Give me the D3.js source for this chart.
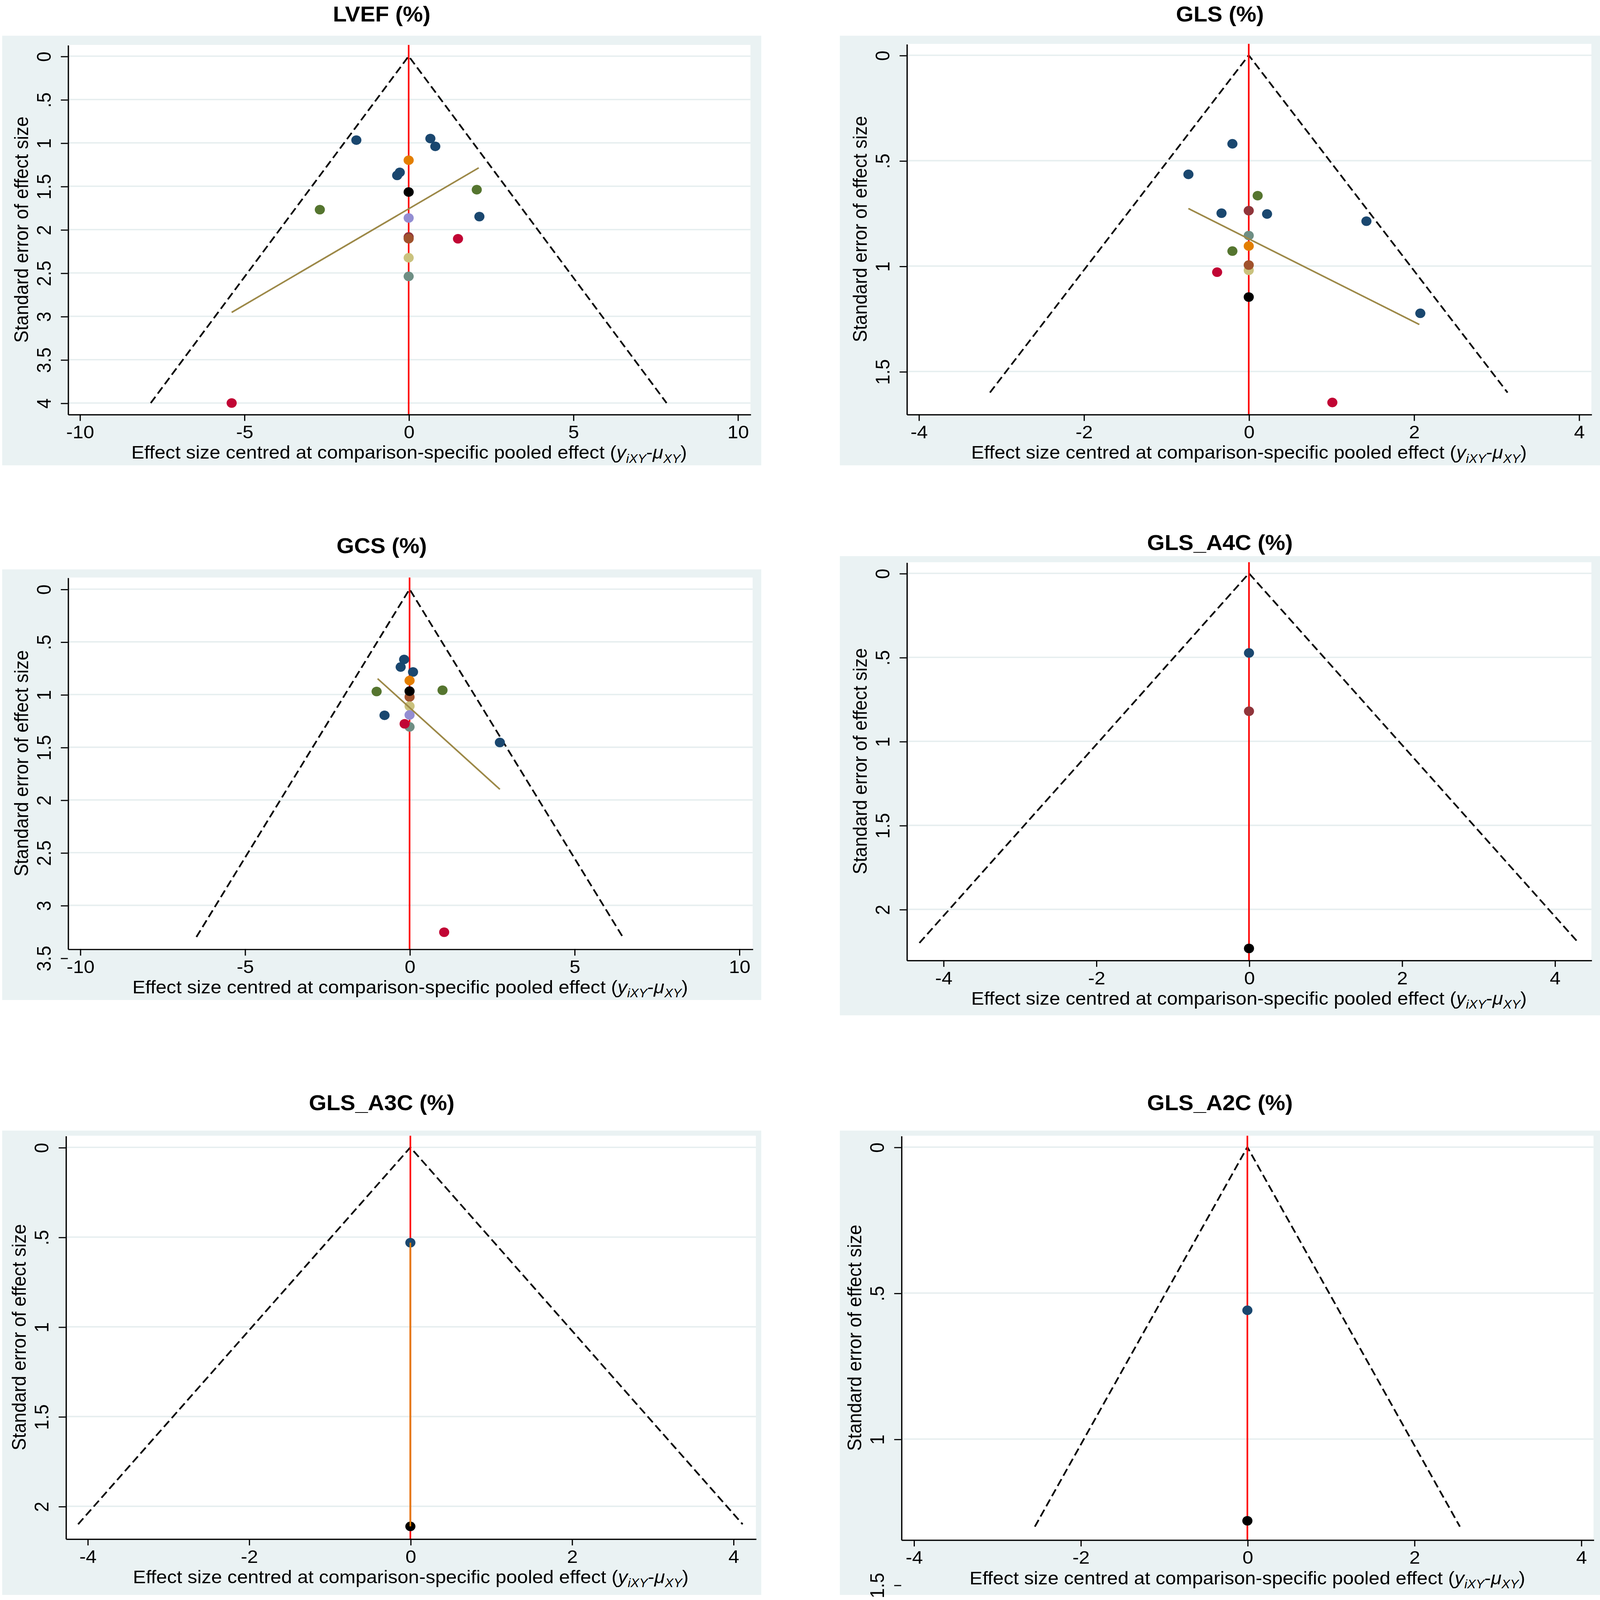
<!DOCTYPE html>
<html>
<head>
<meta charset="utf-8">
<title>Comparison-adjusted funnel plots</title>
<style>
  html, body { margin: 0; padding: 0; background: #fff; overflow: hidden; }
  svg { display: block; font-family: "Liberation Sans", Arial, sans-serif; }
</style>
</head>
<body>
<svg id="main"></svg>

<script src="https://cdn.jsdelivr.net/npm/d3@7.0.1/dist/d3.min.js"></script>
<script>
  // marker colour of each comparison (Stata s2color order)
  const cmpColor = {
    c1: '#1a476f', c2: '#90353b', c3: '#55752f', c4: '#e37e00', c5: '#6e8e84',
    c6: '#c10534', c7: '#938dd2', c8: '#cac27e', c9: '#a0522d', c10: '#000000'
  }

  // ---- LVEF (%)
  const lvefEffect = [-1.59, 0.66, 0.81, 0, -0.27, -0.35, 0, 2.07, -2.70, 0, 2.15, 0, 0, 1.50, 0, 0, -5.38]
  const lvefSE = [0.968, 0.95, 1.04, 1.20, 1.34, 1.375, 1.567, 1.54, 1.77, 1.866, 1.85, 2.085, 2.105, 2.106, 2.325, 2.54, 4.0]
  const lvefCmp = ['c1', 'c1', 'c1', 'c4', 'c1', 'c1', 'c10', 'c3', 'c3', 'c7', 'c1', 'c2', 'c9', 'c6', 'c8', 'c5', 'c6']
  const lvefFitX = [-5.38, 2.13], lvefFitSE = [2.955, 1.288]

  // ---- GLS (%)
  const glsEffect = [-0.198, -0.731, 0.108, -0.33, 0, 0.222, 1.426, 0, 0, -0.198, 0, 0, -0.383, 0, 2.079, 1.013]
  const glsSE = [0.420, 0.565, 0.666, 0.749, 0.737, 0.753, 0.787, 0.855, 0.905, 0.929, 1.020, 0.995, 1.029, 1.147, 1.224, 1.647]
  const glsCmp = ['c1', 'c1', 'c3', 'c1', 'c2', 'c1', 'c1', 'c5', 'c4', 'c3', 'c8', 'c9', 'c6', 'c10', 'c1', 'c6']
  const glsFitX = [-0.731, 2.067], glsFitSE = [0.727, 1.277]

  // ---- GCS (%)
  const gcsEffect = [-0.165, -0.27, 0.105, 0, -1.00, 1.00, 0, 0, 0, -0.76, 0, 0, -0.15, 2.74, 1.05]
  const gcsSE = [0.667, 0.739, 0.786, 0.867, 0.971, 0.959, 1.023, 0.968, 1.11, 1.197, 1.194, 1.307, 1.278, 1.455, 3.255]
  const gcsCmp = ['c1', 'c1', 'c1', 'c4', 'c3', 'c3', 'c9', 'c10', 'c8', 'c1', 'c7', 'c5', 'c6', 'c1', 'c6']
  const gcsFitX = [-0.97, 2.74], gcsFitSE = [0.849, 1.899]

  // ---- GLS_A4C / GLS_A3C / GLS_A2C (%)
  const a4cEffect = [0, 0, 0], a4cSE = [0.474, 0.821, 2.233], a4cCmp = ['c1', 'c2', 'c10']
  const a3cEffect = [0, 0], a3cSE = [0.531, 2.112], a3cCmp = ['c1', 'c10']
  const a3cFitX = [0, 0], a3cFitSE = [0.531, 2.112]
  const a2cEffect = [0, 0], a2cSE = [0.559, 1.28], a2cCmp = ['c1', 'c10']

  // tick values
  const ticksWide = [-10, -5, 0, 5, 10]
  const ticksNarrow = [-4, -2, 0, 2, 4]

  const panels = [
    { title: 'LVEF (%)', x: lvefEffect, se: lvefSE, cmp: lvefCmp, fitX: lvefFitX, fitSE: lvefFitSE, fitColor: '#9c8847',
      funnelSE: 4.0, xTicks: ticksWide, yTicks: d3.range(0, 4.01, 0.5), xDom: [-10.36, 10.39], yDom: [-0.13, 4.13],
      box: [2, 35, 707, 456], plot: [63, 44, 697, 406], titleY: 21 },
    { title: 'GLS (%)', x: glsEffect, se: glsSE, cmp: glsCmp, fitX: glsFitX, fitSE: glsFitSE, fitColor: '#9c8847',
      funnelSE: 1.6, xTicks: ticksNarrow, yTicks: [0, 0.5, 1, 1.5], xDom: [-4.146, 4.152], yDom: [-0.054, 1.703],
      box: [780, 35, 1486, 456], plot: [842, 43, 1478, 406], titleY: 21 },
    { title: 'GCS (%)', x: gcsEffect, se: gcsSE, cmp: gcsCmp, fitX: gcsFitX, fitSE: gcsFitSE, fitColor: '#9c8847',
      funnelSE: 3.3, xTicks: ticksWide, yTicks: d3.range(0, 3.51, 0.5), xDom: [-10.37, 10.41], yDom: [-0.11, 3.414],
      box: [2, 558, 707, 980], plot: [63, 566, 699, 930], titleY: 542 },
    { title: 'GLS_A4C (%)', x: a4cEffect, se: a4cSE, cmp: a4cCmp, fitX: null, fitSE: null,
      funnelSE: 2.2, xTicks: ticksNarrow, yTicks: [0, 0.5, 1, 1.5, 2], xDom: [-4.48, 4.48], yDom: [-0.066, 2.303],
      box: [780, 545, 1486, 995], plot: [842, 551, 1478, 941], titleY: 539 },
    { title: 'GLS_A3C (%)', x: a3cEffect, se: a3cSE, cmp: a3cCmp, fitX: a3cFitX, fitSE: a3cFitSE, fitColor: '#e37e00',
      funnelSE: 2.1, xTicks: ticksNarrow, yTicks: [0, 0.5, 1, 1.5, 2], xDom: [-4.27, 4.28], yDom: [-0.065, 2.181],
      box: [2, 1108, 707, 1563], plot: [61, 1113, 702, 1508], titleY: 1088 },
    { title: 'GLS_A2C (%)', x: a2cEffect, se: a2cSE, cmp: a2cCmp, fitX: null, fitSE: null,
      funnelSE: 1.3, xTicks: ticksNarrow, yTicks: [0, 0.5, 1, 1.5], xDom: [-4.15, 4.15], yDom: [-0.039, 1.345],
      box: [780, 1108, 1486, 1563], plot: [837, 1113, 1480, 1509], titleY: 1088 }
  ]

  // drawing units: 1486 x 1568, stretched over the whole window
  const svg = d3.select('#main')
    .attr('width', window.innerWidth).attr('height', window.innerHeight)
    .attr('viewBox', '0 0 1486 1568').attr('preserveAspectRatio', 'none')
  const stataFmt = v => String(v).replace(/^0\./, '.')

  panels.forEach(p => {
    const [bx0, by0, bx1, by1] = p.box
    const [px0, py0, px1, py1] = p.plot

    // graph region and plot region
    svg.append('rect').attr('x', bx0).attr('y', by0).attr('width', bx1 - bx0).attr('height', by1 - by0)
      .attr('fill', '#eaf2f3')
    svg.append('rect').attr('x', px0).attr('y', py0).attr('width', px1 - px0).attr('height', py1 - py0)
      .attr('fill', '#ffffff')

    svg.append('text').text(p.title)
      .attr('x', (bx0 + bx1) / 2).attr('y', p.titleY)
      .attr('text-anchor', 'middle').attr('font-weight', 'bold').attr('font-size', 21)

    const xScale = d3.scaleLinear().domain(p.xDom).range([px0, px1])
    const yScale = d3.scaleLinear().domain(p.yDom).range([py0, py1])

    const g = svg.append('g')

    // horizontal grid
    g.selectAll('.grid').data(p.yTicks.filter(v => v <= p.yDom[1]))
      .join('line')
      .attr('class', 'grid')
      .attr('x1', px0).attr('x2', px1)
      .attr('y1', d => yScale(d)).attr('y2', d => yScale(d))
      .attr('stroke', '#e6eeef').attr('stroke-width', 1.4)

    // pseudo 95% confidence limits
    const funnel = [[-1.96 * p.funnelSE, p.funnelSE], [0, 0], [1.96 * p.funnelSE, p.funnelSE]]
    g.append('path')
      .attr('d', d3.line().x(d => xScale(d[0])).y(d => yScale(d[1]))(funnel))
      .attr('fill', 'none').attr('stroke', '#000').attr('stroke-width', 1.6)
      .attr('stroke-dasharray', '7.5,3.8')

    // line of null effect
    g.append('line')
      .attr('x1', xScale(0)).attr('x2', xScale(0))
      .attr('y1', py0).attr('y2', py1)
      .attr('stroke', '#ff0000').attr('stroke-width', 1.5)

    // studies
    const pts = p.x.map((v, i) => ({ x: v, se: p.se[i], cmp: p.cmp[i] }))
    g.selectAll('.pt').data(pts)
      .join('circle')
      .attr('class', 'pt')
      .attr('cx', d => xScale(d.x)).attr('cy', d => yScale(d.se))
      .attr('r', 4.7)
      .attr('fill', d => cmpColor[d.cmp])

    // small-study regression line
    if (p.fitX) {
      const fit = p.fitX.map((v, i) => [v, p.fitSE[i]])
      g.append('path')
        .attr('d', d3.line().x(d => xScale(d[0])).y(d => yScale(d[1]))(fit))
        .attr('fill', 'none').attr('stroke', p.fitColor).attr('stroke-width', 1.5)
    }

    // axes
    const yAxis = d3.axisLeft(yScale).tickValues(p.yTicks).tickFormat(stataFmt)
      .tickSizeInner(6.5).tickSizeOuter(0)
    const xAxis = d3.axisBottom(xScale).tickValues(p.xTicks).tickFormat(stataFmt)
      .tickSizeInner(6.5).tickSizeOuter(0)

    const ya = svg.append('g').attr('transform', `translate(${px0},0)`).call(yAxis)
    const xa = svg.append('g').attr('transform', `translate(0,${py1})`).call(xAxis)

    ;[ya, xa].forEach(a => {
      a.select('.domain').attr('stroke', '#000').attr('stroke-width', 1.2)
      a.selectAll('.tick line').attr('stroke', '#000').attr('stroke-width', 1.1)
      a.selectAll('.tick text').attr('font-size', 18).attr('fill', '#000')
        .attr('font-family', '"Liberation Sans", Arial, sans-serif')
    })
    ya.selectAll('.tick text')
      .attr('x', 0).attr('dy', 0).attr('text-anchor', 'middle')
      .attr('transform', 'translate(-16,0) rotate(-90)')
    xa.selectAll('.tick text').attr('y', 0).attr('dy', 23.5)

    // axis titles
    svg.append('text').text('Standard error of effect size')
      .attr('transform', `translate(${px0 - 37},${(py0 + py1) / 2}) rotate(-90)`)
      .attr('text-anchor', 'middle').attr('font-size', 18)

    const xt = svg.append('text')
      .attr('x', (px0 + px1) / 2).attr('y', py1 + 43.5)
      .attr('text-anchor', 'middle').attr('font-size', 18)
    xt.append('tspan').text('Effect size centred at comparison-specific pooled effect (')
    xt.append('tspan').attr('font-style', 'italic').text('y')
    xt.append('tspan').attr('font-style', 'italic').attr('font-size', 12).attr('dy', 4).text('iXY')
    xt.append('tspan').attr('dy', -4).text('-')
    xt.append('tspan').attr('font-style', 'italic').text('μ')
    xt.append('tspan').attr('font-style', 'italic').attr('font-size', 12).attr('dy', 4).text('XY')
    xt.append('tspan').attr('dy', -4).text(')')
  })
</script>
</body>
</html>
